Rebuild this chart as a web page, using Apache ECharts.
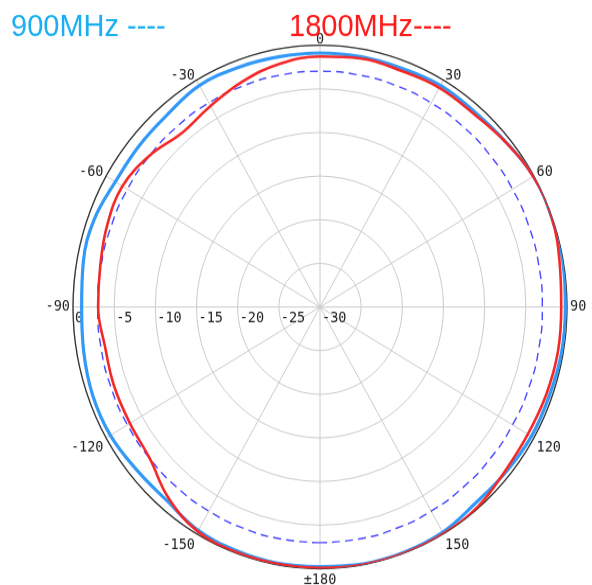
<!DOCTYPE html>
<html><head><meta charset="utf-8">
<script src="https://cdn.jsdelivr.net/npm/echarts@6/dist/echarts.min.js"></script>
<style>
html,body{margin:0;padding:0;background:#fff;overflow:hidden;}
#wrap{width:592px;height:585px;overflow:hidden;}
#chart{width:592px;height:552px;transform:scale(1,1.06);transform-origin:0 0;}
</style></head><body><div id="wrap"><div id="chart"></div></div>
<script>
// Angles in degrees (0 = top, clockwise positive)
const angles = [-180,-170,-160,-150,-140,-130,-120,-110,-100,-90,-80,-70,-60,-50,-40,-30,-20,-10,
  0,10,20,30,40,50,60,70,80,90,100,110,120,130,140,150,160,170,180];
// 900MHz pattern, dB
const gain900 = [-0.25,-0.2,-0.3,-0.45,-1.05,-0.95,-0.6,-0.6,-0.85,-1.05,-0.8,-0.8,-1.3,-1.3,-1.2,-0.7,-0.8,-0.9,
  -0.9,-0.9,-0.9,-0.7,-0.8,-0.55,-0.05,-0.05,-0.05,-0.2,-0.2,-0.35,-0.35,-0.55,-0.65,-0.2,-0.1,-0.1,-0.25];
// 1800MHz pattern, dB
const gain1800 = [-0.1,-0.1,-0.12,-0.3,-1.4,-3.0,-3.35,-3.4,-3.5,-3.05,-2.9,-2.5,-2.3,-3.0,-3.95,-3.4,-2.5,-1.7,
  -1.3,-1.1,-1.2,-1.0,-1.05,-0.6,-0.1,-0.05,-0.45,-0.7,-0.65,-0.75,-0.85,-0.7,-0.15,-0.02,0,-0.02,-0.1];
// -3 dB reference circle
const refLevel = -3;
const radiusMin = -30, radiusMax = 0, radiusStep = 5;
const angleStep = 30;
const title900 = '900MHz ----';
const title1800 = '1800MHz----';

function toAxisAngle(a){ return a < -90 ? a + 360 : a; }
function build(vals){ return angles.map((a,i)=>[vals[i], toAxisAngle(a)]); }
const refData = angles.map(a=>[refLevel, toAxisAngle(a)]);

const labelFont = {fontFamily:'DejaVu Sans Mono', fontSize:13.5, color:'#222'};

const chart = echarts.init(document.getElementById('chart'), null, {renderer:'canvas'});
chart.setOption({
  animation:false,
  backgroundColor:'#fff',
  title:[
    {text:title900, left:11, top:11, padding:0, textStyle:{color:'#1aaff0', fontSize:29, fontWeight:'normal', fontFamily:'Liberation Sans'}},
    {text:title1800, left:289, top:11, padding:0, textStyle:{color:'#ff1a1a', fontSize:29, fontWeight:'normal', fontFamily:'Liberation Sans'}}
  ],
  polar:{center:[320,289.6], radius:247},
  angleAxis:{
    type:'value', min:-90, max:270, interval:angleStep, startAngle:180, clockwise:true,
    axisLine:{show:true, lineStyle:{color:'#333', width:1.3}},
    axisTick:{show:false},
    splitLine:{show:true, lineStyle:{color:'#cccccc', width:1}},
    axisLabel:{
      margin:3,
      formatter:function(v){
        let d = v > 180 ? v - 360 : v;
        if (d === 180) return '{dn|±180}';
        const up = Math.abs(d) < 90;
        return (up ? '{up|' : '{dn|') + d + '}';
      },
      rich:{
        up:Object.assign({lineHeight:4}, labelFont),
        dn:Object.assign({lineHeight:16}, labelFont)
      }
    }
  },
  radiusAxis:{
    type:'value', min:radiusMin, max:radiusMax, interval:radiusStep,
    axisLine:{show:false}, axisTick:{show:false},
    splitLine:{show:true, lineStyle:{color:'#cccccc', width:1}},
    axisLabel:Object.assign({show:true, align:'left', margin:4, padding:[0,0,0,2]}, labelFont)
  },
  series:[
    {type:'line', coordinateSystem:'polar', data:refData, showSymbol:false, smooth:true,
      lineStyle:{color:'#4747ff', width:1.4, type:[8,5]}, z:2},
    {type:'line', coordinateSystem:'polar', name:'900MHz', data:build(gain900), showSymbol:false, smooth:0.4,
      lineStyle:{color:'#3399f7', width:3.2}, z:3},
    {type:'line', coordinateSystem:'polar', name:'1800MHz', data:build(gain1800), showSymbol:false, smooth:0.4,
      lineStyle:{color:'#f52828', width:2.6}, z:4}
  ]
});
</script></body></html>
